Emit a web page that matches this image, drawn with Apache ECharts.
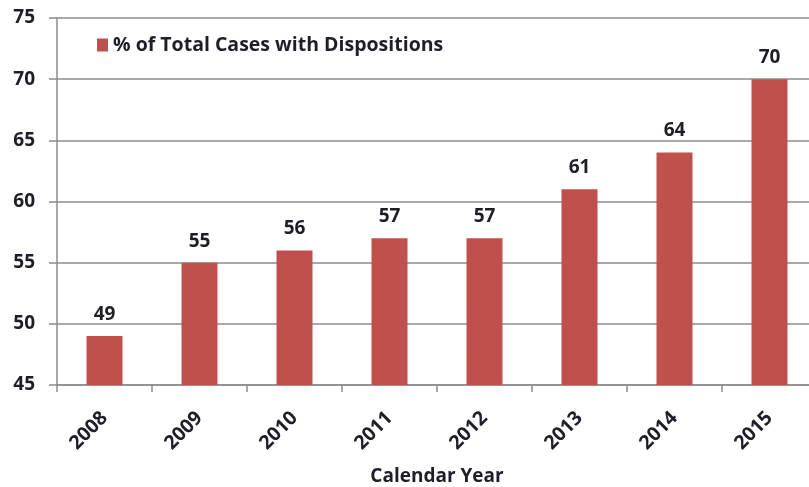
<!DOCTYPE html>
<html><head><meta charset="utf-8">
<script src="https://cdn.jsdelivr.net/npm/echarts@6/dist/echarts.min.js"></script>
<style>html,body{margin:0;padding:0;background:#fff}#c{width:809px;height:487px}</style>
</head><body><div id="c"></div>
<script>
const categories = ['2008','2009','2010','2011','2012','2013','2014','2015'];
const values = [49,55,56,57,57,61,64,70];
const seriesName = '% of Total Cases with Dispositions';
const xAxisName = 'Calendar Year';
const FONT = '"Open Sans", sans-serif';
const TXT = '#1e1e28';
const chart = echarts.init(document.getElementById('c'), null, {renderer:'canvas'});
chart.setOption({
  animation:false,
  textStyle:{fontFamily:FONT},
  grid:{left:57,right:-8,top:18,bottom:102,containLabel:false,outerBoundsMode:'none'},
  legend:{
    show:true, left:97, top:35, padding:0, itemWidth:11, itemHeight:13,
    icon:'rect',
    textStyle:{fontFamily:FONT,fontWeight:'bold',fontSize:19.5,color:TXT},
    data:[seriesName]
  },
  xAxis:{
    type:'category', data:categories,
    name:xAxisName, nameLocation:'middle', nameGap:82,
    nameTextStyle:{fontFamily:FONT,fontWeight:'bold',fontSize:19,color:TXT},
    axisLine:{lineStyle:{color:'#8c8c8c',width:1.5}},
    axisTick:{show:true,alignWithLabel:false,length:7,lineStyle:{color:'#8c8c8c',width:1.5}},
    axisLabel:{rotate:45,margin:30,fontFamily:FONT,fontWeight:'bold',fontSize:19.5,color:TXT}
  },
  yAxis:{
    type:'value', min:45, max:75, interval:5,
    axisLine:{show:true,lineStyle:{color:'#8c8c8c',width:1.5}},
    axisTick:{show:true,length:8,lineStyle:{color:'#8c8c8c',width:1.5}},
    splitLine:{lineStyle:{color:'#8c8c8c',width:1.5}},
    axisLabel:{margin:22,fontFamily:FONT,fontWeight:'bold',fontSize:19,color:TXT}
  },
  series:[{
    name:seriesName, type:'bar', data:values, barWidth:36,
    itemStyle:{color:'#C0504D'},
    label:{show:true,position:'top',distance:12,fontFamily:FONT,fontWeight:'bold',fontSize:19,color:TXT}
  }]
});
</script></body></html>
